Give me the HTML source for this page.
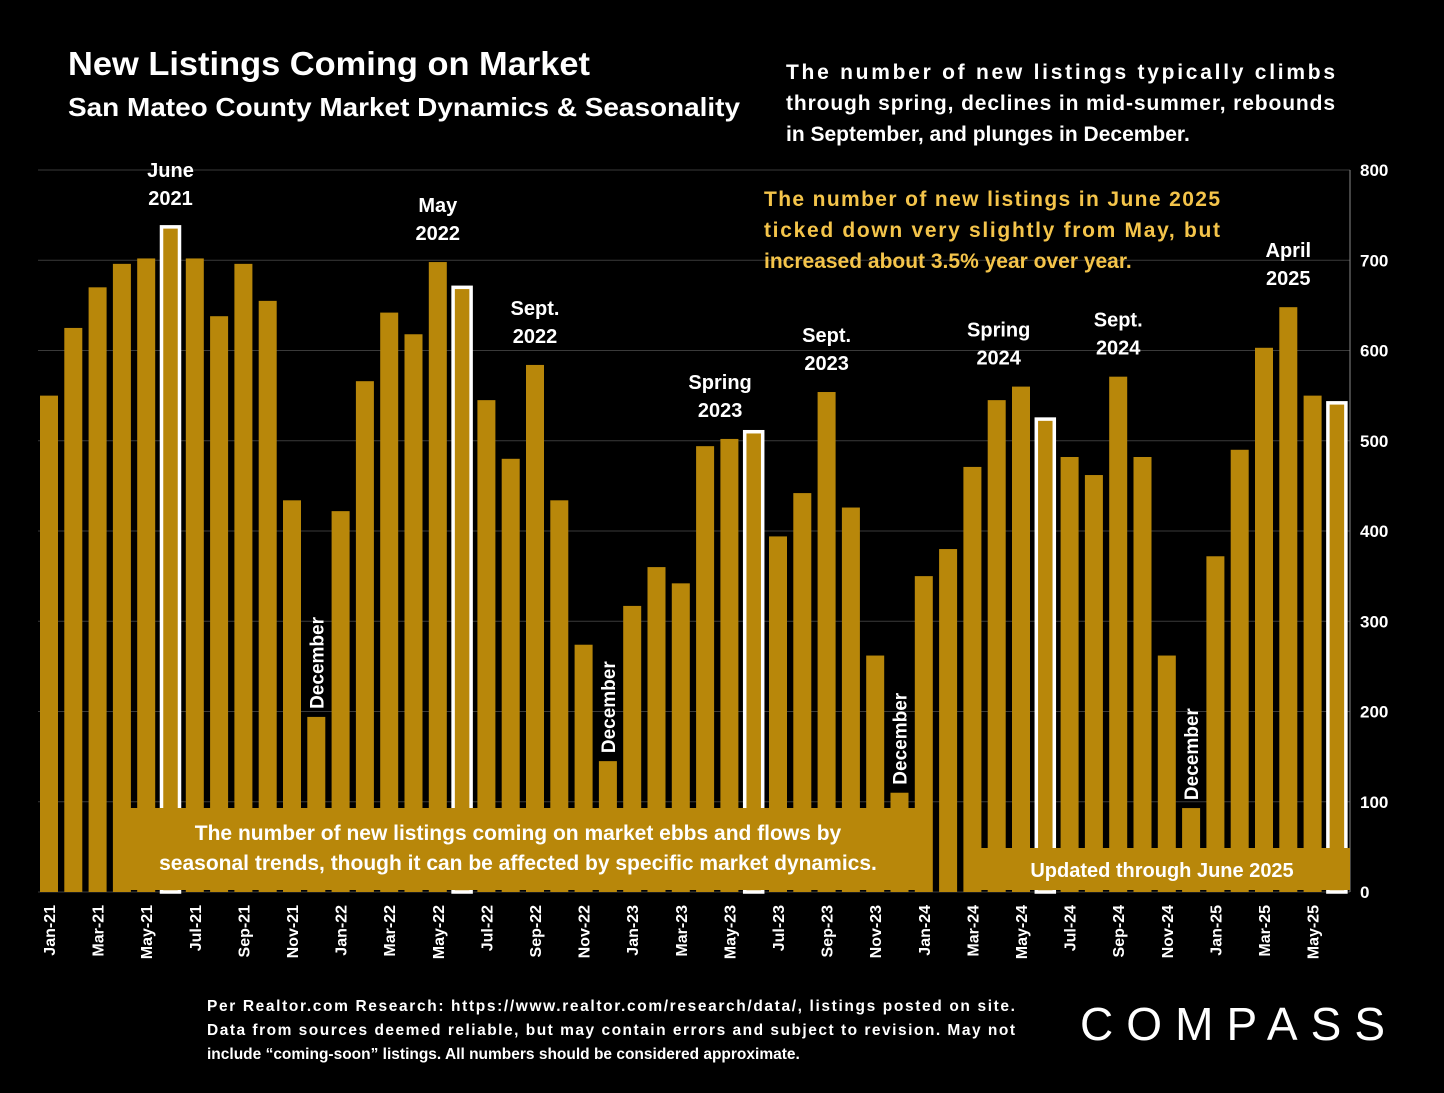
<!DOCTYPE html>
<html><head><meta charset="utf-8"><style>
body{margin:0;background:#000;width:1444px;height:1088px;overflow:hidden;font-family:"Liberation Sans",sans-serif;color:#fff}
svg text{font-family:"Liberation Sans",sans-serif}
</style></head><body>
<svg id="chart" width="1444" height="1088" viewBox="0 0 1444 1088">
<rect x="0" y="0" width="1444" height="1088" fill="#000"/>
<text x="68" y="75" font-size="33" font-weight="bold" fill="#fff" textLength="522" lengthAdjust="spacingAndGlyphs">New Listings Coming on Market</text>
<text x="68" y="116" font-size="26" font-weight="bold" fill="#fff" textLength="672" lengthAdjust="spacingAndGlyphs">San Mateo County Market Dynamics &amp; Seasonality</text>
<g font-size="21" font-weight="bold" fill="#fff">
<text x="786" y="79" textLength="549" lengthAdjust="spacing">The number of new listings typically climbs</text>
<text x="786" y="110" textLength="549" lengthAdjust="spacing">through spring, declines in mid-summer, rebounds</text>
<text x="786" y="141">in September, and plunges in December.</text>
</g>
<g id="grid"></g><g id="bars"></g><g id="yticks"></g><g id="xticks"></g>
<g font-size="21" font-weight="bold" fill="#F4C44A">
<text x="764" y="206" textLength="456" lengthAdjust="spacing">The number of new listings in June 2025</text>
<text x="764" y="237" textLength="456" lengthAdjust="spacing">ticked down very slightly from May, but</text>
<text x="764" y="268">increased about 3.5% year over year.</text>
</g>
<rect x="113" y="808" width="809" height="82" fill="#B8870A"/>
<text font-size="21" font-weight="bold" fill="#fff" text-anchor="middle"><tspan x="518" y="840">The number of new listings coming on market ebbs and flows by</tspan><tspan x="518" y="870">seasonal trends, though it can be affected by specific market dynamics.</tspan></text>
<rect x="965" y="848" width="385" height="42" fill="#B8870A"/>
<text x="1162" y="877" font-size="20" font-weight="bold" fill="#fff" text-anchor="middle">Updated through June 2025</text>
<g id="labels" font-size="20" font-weight="bold" fill="#fff" text-anchor="middle"></g>
<g font-size="15.5" font-weight="bold" fill="#fff">
<text x="207" y="1011" textLength="808" lengthAdjust="spacing">Per Realtor.com Research:  https://www.realtor.com/research/data/, listings posted on site.</text>
<text x="207" y="1035" textLength="808" lengthAdjust="spacing">Data from sources deemed reliable, but may contain errors and subject to revision. May not</text>
<text x="207" y="1059">include “coming-soon” listings. All numbers should be considered approximate.</text>
</g>
<text x="1080" y="1040" font-size="46" fill="#fff" textLength="305" lengthAdjust="spacing">COMPASS</text>
</svg>
<script>
const months=["Jan-21","Feb-21","Mar-21","Apr-21","May-21","Jun-21","Jul-21","Aug-21","Sep-21","Oct-21","Nov-21","Dec-21","Jan-22","Feb-22","Mar-22","Apr-22","May-22","Jun-22","Jul-22","Aug-22","Sep-22","Oct-22","Nov-22","Dec-22","Jan-23","Feb-23","Mar-23","Apr-23","May-23","Jun-23","Jul-23","Aug-23","Sep-23","Oct-23","Nov-23","Dec-23","Jan-24","Feb-24","Mar-24","Apr-24","May-24","Jun-24","Jul-24","Aug-24","Sep-24","Oct-24","Nov-24","Dec-24","Jan-25","Feb-25","Mar-25","Apr-25","May-25","Jun-25"];
const listings=[550,625,670,696,702,737,702,638,696,655,434,194,422,566,642,618,698,670,545,480,584,434,274,145,317,360,342,494,502,510,394,442,554,426,262,110,350,380,471,545,560,524,482,462,571,482,262,93,372,490,603,648,550,542];
const highlighted=["Jun-21","Jun-22","Jun-23","Jun-24","Jun-25"];
const yTicks=[0,100,200,300,400,500,600,700,800];
const annotations=[["Jun-21",["June","2021"]],["May-22",["May","2022"]],["Sep-22",["Sept.","2022"]],["Apr-23",["Spring","2023"]],["Sep-23",["Sept.","2023"]],["Apr-24",["Spring","2024"]],["Sep-24",["Sept.","2024"]],["Apr-25",["April","2025"]]];
const decembers=["Dec-21","Dec-22","Dec-23","Dec-24"];
const NS="http://www.w3.org/2000/svg";
const x0=49,step=24.3,y0=892,yMax=800,yTop=170;
const xs=i=>x0+i*step;
const ys=v=>y0-(v/yMax)*(y0-yTop);
function mk(t,a,p){const e=document.createElementNS(NS,t);for(const k in a)e.setAttribute(k,a[k]);p.appendChild(e);return e;}
const grid=document.getElementById('grid'),yt=document.getElementById('yticks');
yTicks.forEach(v=>{
 const l=mk('line',{x1:38,x2:1350,y1:ys(v),y2:ys(v),stroke:'#3a3a3a','stroke-width':1},grid);
 
 
 const t=mk('text',{x:1360,y:ys(v)+6,'font-size':17,'font-weight':'bold',fill:'#fff'},yt);t.textContent=v;
 
 
});
const ax=mk('line',{x1:1350,x2:1350,y1:yTop,y2:y0,stroke:'#888','stroke-width':1},yt);


const bars=document.getElementById('bars'),xt=document.getElementById('xticks');
months.forEach((m,i)=>{
 const v=listings[i],hi=highlighted.includes(m);
 const r=mk('rect',{x:xs(i)-9,y:ys(v),width:18,height:y0-ys(v),fill:'#B8870A'},bars);
 if(hi){r.setAttribute('stroke','#fff');r.setAttribute('stroke-width',3.5);}
 
 
 if(i%2===0){
  const t=mk('text',{transform:`translate(${xs(i)+6},905) rotate(-90)`,'text-anchor':'end','font-size':16,'font-weight':'bold',fill:'#fff'},xt);t.textContent=m;
  
  
 }
});
const lab=document.getElementById('labels');
annotations.forEach(([m,lines])=>{
 const i=months.indexOf(m);
 const isSpring=lines[0]==='Spring';
 const top=isSpring?Math.min(ys(listings[i]),ys(listings[i+1])):ys(listings[i]);
 const cx=isSpring?xs(i)+(m==='Apr-23'?15:2):xs(i);
 const t=mk('text',{x:cx,y:top-50},lab);
 
 
 lines.forEach((s,k)=>{const sp=mk('tspan',{x:cx,dy:k?28:0},t);sp.textContent=s;});
});
decembers.forEach(m=>{
 const i=months.indexOf(m),top=ys(listings[i]);
 const t=mk('text',{transform:`translate(${xs(i)+7},${top-8}) rotate(-90)`,'text-anchor':'start','font-size':19},lab);
 t.textContent='December';
 
 
});
</script>
</body></html>
